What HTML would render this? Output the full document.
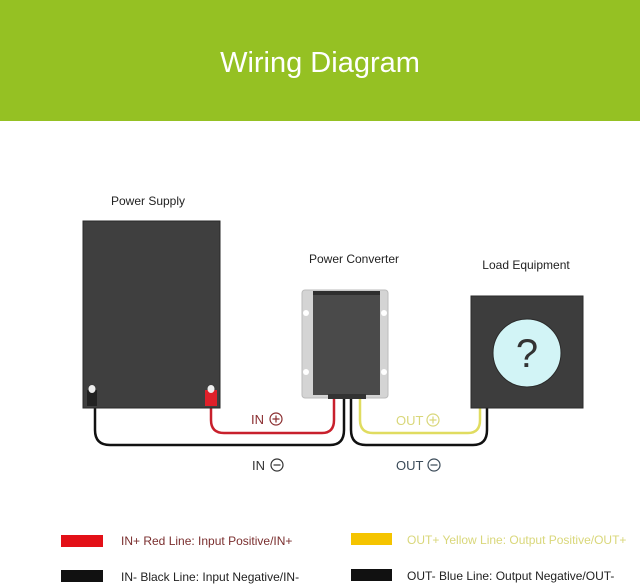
<!DOCTYPE html>
<html><head><style>
html,body{margin:0;padding:0;background:#fff;}
body{width:640px;height:586px;overflow:hidden;position:relative;font-family:"Liberation Sans",sans-serif;}
</style></head><body>
<svg width="640" height="586" viewBox="0 0 640 586" xmlns="http://www.w3.org/2000/svg" style="position:absolute;left:0;top:0">
<rect x="0" y="0" width="640" height="121" fill="#95c123"/>
<text x="320" y="72" text-anchor="middle" font-family="Liberation Sans, sans-serif" font-size="29" fill="#fff">Wiring Diagram</text>

<text x="148" y="205" text-anchor="middle" font-size="12" fill="#222" font-family="Liberation Sans, sans-serif">Power Supply</text>
<text x="354" y="263" text-anchor="middle" font-size="12" fill="#222" font-family="Liberation Sans, sans-serif">Power Converter</text>
<text x="526" y="269" text-anchor="middle" font-size="12" fill="#222" font-family="Liberation Sans, sans-serif">Load Equipment</text>

<g fill="none" stroke-width="2.5">
<path d="M95 400 V430 Q95 445 110 445 H330 Q344 445 344 430 V399" stroke="#111"/>
<path d="M211 400 V420 Q211 433 224 433 H322 Q334 433 334 420 V399" stroke="#c8202c"/>
<path d="M351 399 V430 Q351 445 366 445 H473 Q487 445 487 430 V408" stroke="#111"/>
<path d="M360 399 V420 Q360 433 373 433 H468 Q480 433 480 420 V408" stroke="#e0dc60"/>
</g>

<rect x="83" y="221" width="137" height="187" fill="#3f3f3f" stroke="#2a2a2a" stroke-width="1"/>
<rect x="87" y="390" width="10" height="16" fill="#222"/>
<ellipse cx="92" cy="389" rx="3.5" ry="4" fill="#eee"/>
<rect x="205" y="390" width="12" height="16" fill="#e0202a"/>
<ellipse cx="211" cy="389" rx="3.5" ry="4" fill="#eee"/>

<rect x="302" y="290" width="86" height="108" rx="3" fill="#d4d4d4" stroke="#bbb"/>
<circle cx="306" cy="313" r="3" fill="#fff"/>
<circle cx="306" cy="372" r="3" fill="#fff"/>
<circle cx="384" cy="313" r="3" fill="#fff"/>
<circle cx="384" cy="372" r="3" fill="#fff"/>
<rect x="313" y="291" width="67" height="104" fill="#4a4a4a"/>
<rect x="313" y="291" width="67" height="4" fill="#2e2e2e"/>
<rect x="328" y="394" width="38" height="5" fill="#333"/>

<rect x="471" y="296" width="112" height="112" fill="#3d3d3d" stroke="#2a2a2a"/>
<circle cx="527" cy="353" r="34" fill="#d2f4f6" stroke="#2a2a2a" stroke-width="1"/>
<text x="527" y="367" text-anchor="middle" font-size="40" fill="#333" font-family="Liberation Sans, sans-serif">?</text>

<g font-family="Liberation Sans, sans-serif" font-size="13">
<text x="251" y="424" fill="#8b2e30">IN</text>
<circle cx="276" cy="419" r="6" fill="none" stroke="#8b2e30" stroke-width="1.2"/>
<path d="M272.5 419 H279.5 M276 415.5 V422.5" stroke="#8b2e30" stroke-width="1.2"/>
<text x="252" y="470" fill="#333">IN</text>
<circle cx="277" cy="465" r="6" fill="none" stroke="#333" stroke-width="1.2"/>
<path d="M273.5 465 H280.5" stroke="#333" stroke-width="1.2"/>
<text x="396" y="425" fill="#d9d77a">OUT</text>
<circle cx="433" cy="420" r="6" fill="none" stroke="#d9d77a" stroke-width="1.2"/>
<path d="M429.5 420 H436.5 M433 416.5 V423.5" stroke="#d9d77a" stroke-width="1.2"/>
<text x="396" y="470" fill="#3a4a58">OUT</text>
<circle cx="434" cy="465" r="6" fill="none" stroke="#3a4a58" stroke-width="1.2"/>
<path d="M430.5 465 H437.5" stroke="#3a4a58" stroke-width="1.2"/>
</g>

<rect x="61" y="535" width="42" height="12" fill="#e31017"/>
<rect x="61" y="570" width="42" height="12" fill="#111"/>
<rect x="351" y="533" width="41" height="12" fill="#f5c400"/>
<rect x="351" y="569" width="41" height="12" fill="#111"/>
<g font-family="Liberation Sans, sans-serif" font-size="12">
<text x="121" y="545" fill="#7a2e2e">IN+ Red Line: Input Positive/IN+</text>
<text x="121" y="581" fill="#222">IN- Black Line: Input Negative/IN-</text>
<text x="407" y="544" fill="#d9d77a">OUT+ Yellow Line: Output Positive/OUT+</text>
<text x="407" y="580" fill="#222">OUT- Blue Line: Output Negative/OUT-</text>
</g>
</svg>
</body></html>
